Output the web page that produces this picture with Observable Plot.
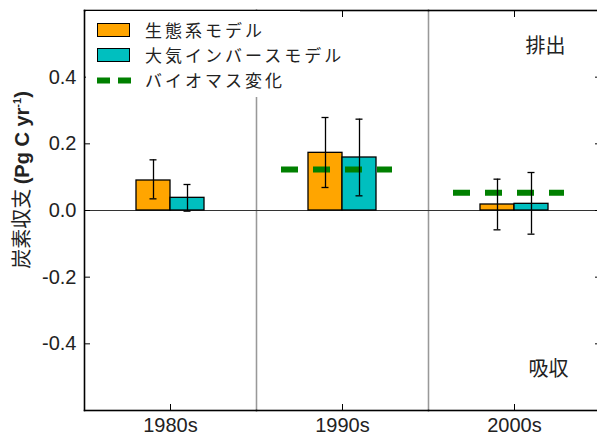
<!DOCTYPE html>
<html><head><meta charset="utf-8">
<script src="https://cdn.jsdelivr.net/npm/d3@7"></script>
<script src="https://cdn.jsdelivr.net/npm/@observablehq/plot@0.6"></script>
<style>
body{margin:0;background:#fff;}
#wrap{position:relative;width:597px;height:435px;overflow:hidden;}
#legend{position:absolute;left:86px;top:11px;width:214px;height:86px;background:#fff;font-family:"Noto Sans CJK JP",sans-serif;font-size:17px;letter-spacing:3px;color:#222;}
.item{position:absolute;left:0;height:25px;}
.sw{position:absolute;left:11px;top:5px;width:33px;height:14px;box-sizing:border-box;border:1.5px solid #000;}
.lab{position:absolute;left:59px;top:0;white-space:nowrap;line-height:24px;}
#ylab{position:absolute;left:20px;top:180px;transform:translate(-50%,-50%) rotate(-90deg);white-space:nowrap;font-size:20px;color:#222;font-family:"Noto Sans CJK JP",sans-serif;}
#ylab b{font-family:"Liberation Sans",Arial,sans-serif;}
</style></head>
<body><div id="wrap"></div>
<script>
const decades = ["1980s", "1990s", "2000s"];
const series = ["生態系モデル", "大気インバースモデル"];
const ecoValue = [0.09, 0.173, 0.018];
const ecoLow = [0.035, 0.069, -0.058];
const ecoHigh = [0.152, 0.279, 0.094];
const invValue = [0.038, 0.159, 0.02];
const invLow = [-0.002, 0.044, -0.071];
const invHigh = [0.078, 0.274, 0.114];
const biomassLabel = "バイオマス変化";
const biomassDecades = ["1990s", "2000s"];
const biomassValue = [0.123, 0.053];
const yTicks = [-0.4, -0.2, 0, 0.2, 0.4];
const yDomain = [-0.6, 0.6];
const colors = ["#FFA500", "#00BFBF"];
const biomassColor = "#008000";

const rows = [];
decades.forEach((d, i) => {
  rows.push({decade: d, series: series[0], value: ecoValue[i], lo: ecoLow[i], hi: ecoHigh[i]});
  rows.push({decade: d, series: series[1], value: invValue[i], lo: invLow[i], hi: invHigh[i]});
});
const biomass = biomassDecades.map((d, i) => ({decade: d, value: biomassValue[i]}));
const notes = [{decade: "2000s", top: "排出", bottom: "吸収"}];

const chart = Plot.plot({
  width: 597, height: 435,
  marginLeft: 83, marginRight: -4, marginTop: 10, marginBottom: 25,
  fx: {domain: decades, padding: 0, label: null},
  x: {domain: series, paddingInner: 0, paddingOuter: 1.467, axis: null},
  y: {domain: yDomain, label: null},
  color: {domain: series, range: colors},
  style: {fontSize: "20px", fontFamily: "'Liberation Sans', Arial, sans-serif", color: "#222", background: "#fff"},
  marks: [
    Plot.frame({stroke: "#999", strokeWidth: 1.3}),
    Plot.frame({anchor: "top", stroke: "#000", strokeWidth: 1.5}),
    Plot.frame({anchor: "bottom", stroke: "#000", strokeWidth: 1.5}),
    Plot.frame({anchor: "left", stroke: "#000", strokeWidth: 1.5, facetAnchor: "left"}),
    Plot.frame({anchor: "right", stroke: "#000", strokeWidth: 1.5, facetAnchor: "right"}),
    Plot.ruleY([0], {stroke: "#333", strokeWidth: 1.2}),
    Plot.barY(rows, {fx: "decade", x: "series", y: "value", fill: "series", stroke: "#000", strokeWidth: 1.3}),
    Plot.ruleY(biomass, {fx: "decade", y: "value", insetLeft: 25, insetRight: 36, stroke: biomassColor, strokeWidth: 6, strokeDasharray: "17,15"}),
    Plot.ruleX(rows, {fx: "decade", x: "series", y1: "lo", y2: "hi", stroke: "#000", strokeWidth: 1.3}),
    Plot.tickY(rows, {fx: "decade", x: "series", y: "hi", insetLeft: 13.5, insetRight: 13.5, stroke: "#000", strokeWidth: 1.3}),
    Plot.tickY(rows, {fx: "decade", x: "series", y: "lo", insetLeft: 13.5, insetRight: 13.5, stroke: "#000", strokeWidth: 1.3}),
    Plot.axisY({anchor: "left", ticks: yTicks, tickSize: -6, tickPadding: 14, tickFormat: d => d.toFixed(1), label: null, stroke: "#000"}),
    Plot.axisY({anchor: "right", ticks: yTicks, tickSize: -6, tickFormat: () => "", label: null, stroke: "#000"}),
    Plot.axisFx({anchor: "bottom", tickSize: -6, tickPadding: 13, label: null, stroke: "#000"}),
    Plot.axisFx({anchor: "top", tickSize: -6, tickFormat: () => "", label: null, stroke: "#000"}),
    Plot.text(notes, {fx: "decade", text: "top", frameAnchor: "top-right", dx: -35, dy: 28, fontSize: 20, fontFamily: "'Noto Sans CJK JP'", fill: "#222"}),
    Plot.text(notes, {fx: "decade", text: "bottom", frameAnchor: "bottom-right", dx: -32, dy: -35, fontSize: 20, fontFamily: "'Noto Sans CJK JP'", fill: "#222"})
  ]
});
const wrap = document.getElementById("wrap");
wrap.appendChild(chart);

const legend = document.createElement("div");
legend.id = "legend";
const items = [
  {label: series[0], type: "box", color: colors[0]},
  {label: series[1], type: "box", color: colors[1]},
  {label: biomassLabel, type: "dash", color: biomassColor}
];
items.forEach((it, i) => {
  const row = document.createElement("div");
  row.className = "item";
  row.style.top = (7 + i * 25) + "px";
  row.style.width = "214px";
  let sw;
  if (it.type === "box") {
    sw = `<div class="sw" style="background:${it.color}"></div>`;
  } else {
    sw = `<svg style="position:absolute;left:11px;top:9px" width="34" height="7"><line x1="0" x2="34" y1="3.5" y2="3.5" stroke="${it.color}" stroke-width="6" stroke-dasharray="13,8"/></svg>`;
  }
  row.innerHTML = sw + `<div class="lab">${it.label}</div>`;
  legend.appendChild(row);
});
wrap.appendChild(legend);

const ylab = document.createElement("div");
ylab.id = "ylab";
ylab.innerHTML = '炭素収支 <b>(Pg C yr<sup style="font-size:11px">-1</sup>)</b>';
wrap.appendChild(ylab);
</script></body></html>
